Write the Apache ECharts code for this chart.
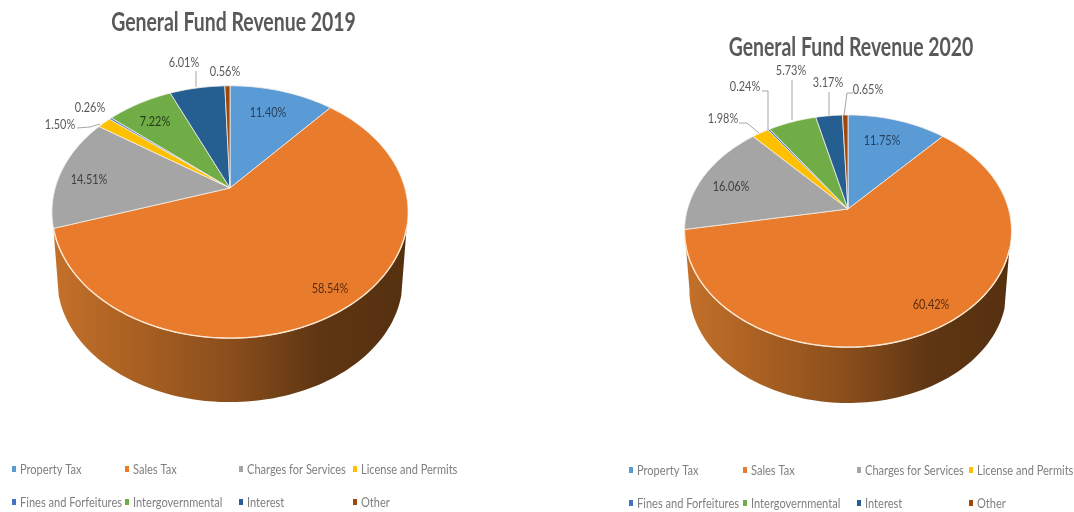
<!DOCTYPE html>
<html>
<head>
<meta charset="utf-8">
<style>html,body{margin:0;padding:0;background:#fff}#chart{width:1074px;height:512px}</style>
<script src="https://cdn.jsdelivr.net/npm/echarts@6/dist/echarts.min.js"></script>
</head>
<body>
<div id="chart"></div>
<script>
// Revenue shares, in percent
const categories = ['Property Tax', 'Sales Tax', 'Charges for Services', 'License and Permits',
  'Fines and Forfeitures', 'Intergovernmental', 'Interest', 'Other'];
const revenue2019 = [11.40, 58.54, 14.51, 1.50, 0.26, 7.22, 6.01, 0.56];
const revenue2020 = [11.75, 60.42, 16.06, 1.98, 0.24, 5.73, 3.17, 0.65];

const sliceColors = ['#5b9bd5', '#e97b2d', '#a5a5a5', '#ffc000', '#4472c4', '#70ad47', '#255e91', '#9e480e'];
const FONT = 'Lato, "Liberation Sans", sans-serif';

// Layout of the two tilted pies: hub, projected radii, wall offset, visible wall span,
// and per-slice label centres with optional leader lines.
const pies = [
  {
    title: 'General Fund Revenue 2019', titleX: 233.5, titleY: 22, values: revenue2019,
    cx: 230, cy: 188, rx: 174.8, ry: 121.6, persp: 0.19, wallDrop: 68.5, wallScale: 0.97, wallSpan: [108, 252],
    legendX: [12, 125, 239, 353], legendY: [469, 502],
    labels: [
      { at: [268, 112], fill: '#27415f' },
      { at: [330, 288], fill: '#5a2d10' },
      { at: [89, 179], fill: '#404040' },
      { at: [60, 124], leader: [[77, 128], [90, 127], [100, 124]] },
      { at: [90, 107] },
      { at: [155, 121], fill: '#223c14' },
      { at: [184, 62], leader: [[196, 71], [196, 87]] },
      { at: [225, 71] }
    ]
  },
  {
    title: 'General Fund Revenue 2020', titleX: 851, titleY: 47, values: revenue2020,
    cx: 848, cy: 209, rx: 160.5, ry: 111.9, persp: 0.19, wallDrop: 60, wallScale: 0.97, wallSpan: [110, 260],
    legendX: [629, 743, 857, 969], legendY: [470, 503],
    labels: [
      { at: [882, 140], fill: '#27415f' },
      { at: [931, 304], fill: '#5a2d10' },
      { at: [731, 186], fill: '#404040' },
      { at: [723, 118], leader: [[739, 123], [747, 123], [759, 133]] },
      { at: [745, 86], leader: [[762, 91], [768, 91], [768, 130]] },
      { at: [791, 70], leader: [[792, 80], [792, 120]] },
      { at: [828, 82], leader: [[829, 92], [829, 115]] },
      { at: [868, 89], leader: [[853, 93], [847, 93], [844, 115]] }
    ]
  }
];

// Maps an angle (degrees clockwise from 12 o'clock) on the pie rim through a perspective tilt.
function rimPoint(pie, deg, scale, drop) {
  const a = deg * Math.PI / 180;
  const u = Math.sin(a), v = -Math.cos(a);
  const d = 1 - pie.persp * v;
  return [pie.cx + scale * pie.rx * u / d, pie.cy + drop + scale * pie.ry * v / d];
}

function arc(pie, from, to, scale, drop) {
  const pts = [];
  const n = Math.max(2, Math.ceil((to - from) / 1.5));
  for (let i = 0; i <= n; i++) pts.push(rimPoint(pie, from + (to - from) * i / n, scale, drop));
  return pts;
}

// Horizontally condensed text, anchored at the given point
function squeezedText(x, y, text, size, widthScale, fill, weight, align) {
  return {
    type: 'text', x: x, y: y, scaleX: widthScale, silent: true,
    style: {
      x: 0, y: 0, text: text, fill: fill,
      font: (weight || 'normal') + ' ' + size + 'px ' + FONT,
      align: align || 'center', verticalAlign: 'middle'
    }
  };
}

function sliceSeries(pie, index) {
  const before = pie.values.slice(0, index).reduce((s, v) => s + v, 0);
  const total = pie.values.reduce((s, v) => s + v, 0);
  const label = pie.labels[index];
  return {
    type: 'custom',
    name: categories[index],
    coordinateSystem: 'none',
    silent: true,
    animation: false,
    itemStyle: { color: sliceColors[index] },
    data: [[pie.values[index]]],
    renderItem: function (params, api) {
      const value = api.value(0);
      const start = before / total * 360;
      const end = (before + value) / total * 360;
      const children = [];

      // Visible outer wall below the near rim
      const wFrom = Math.max(start, pie.wallSpan[0]);
      const wTo = Math.min(end, pie.wallSpan[1]);
      if (wTo > wFrom) {
        children.push({
          type: 'polygon',
          shape: { points: arc(pie, wFrom, wTo, 1, 0).concat(arc(pie, wFrom, wTo, pie.wallScale, pie.wallDrop).reverse()) },
          style: {
            fill: {
              type: 'linear', x: 0, y: 0, x2: 1, y2: 0,
              colorStops: [
                { offset: 0, color: '#c4702a' },
                { offset: 0.25, color: '#a75f22' },
                { offset: 0.5, color: '#8a4e1c' },
                { offset: 0.75, color: '#5f3613' },
                { offset: 1, color: '#55300f' }
              ]
            }
          }
        });
      }

      // Top face of the slice
      children.push({
        type: 'polygon',
        shape: { points: [[pie.cx, pie.cy]].concat(arc(pie, start, end, 1, 0)) },
        style: { fill: sliceColors[index], stroke: '#f4efe9', lineWidth: 0.8 }
      });

      // Light rim where the top face meets the wall
      if (wTo > wFrom) {
        children.push({
          type: 'polyline',
          shape: { points: arc(pie, wFrom, wTo, 1, 0) },
          style: { fill: null, stroke: '#fde6cf', lineWidth: 1.4 }
        });
      }

      if (label.leader) {
        children.push({
          type: 'polyline',
          shape: { points: label.leader },
          style: { fill: null, stroke: '#a6a6a6', lineWidth: 1 }
        });
      }

      children.push(squeezedText(label.at[0], label.at[1], value.toFixed(2) + '%', 14, 0.78, label.fill || '#595959'));
      return { type: 'group', children: children };
    }
  };
}

const series = [];
const overlay = [];
pies.forEach(function (pie) {
  overlay.push(squeezedText(pie.titleX, pie.titleY, pie.title, 27, 0.72, '#595959', 'bold'));
  categories.forEach(function (name, i) {
    series.push(sliceSeries(pie, i));
    const lx = pie.legendX[i % 4];
    const ly = pie.legendY[i < 4 ? 0 : 1];
    overlay.push({
      type: 'rect', silent: true,
      shape: { x: lx, y: ly - 3, width: 4, height: 6 },
      style: { fill: sliceColors[i] }
    });
    overlay.push(squeezedText(lx + 8, ly, name, 14, 0.79, '#7f7f7f', 'normal', 'left'));
  });
});

const chart = echarts.init(document.getElementById('chart'), null, { renderer: 'canvas' });
chart.setOption({
  backgroundColor: '#ffffff',
  animation: false,
  graphic: { elements: overlay },
  series: series
});
</script>
</body>
</html>
